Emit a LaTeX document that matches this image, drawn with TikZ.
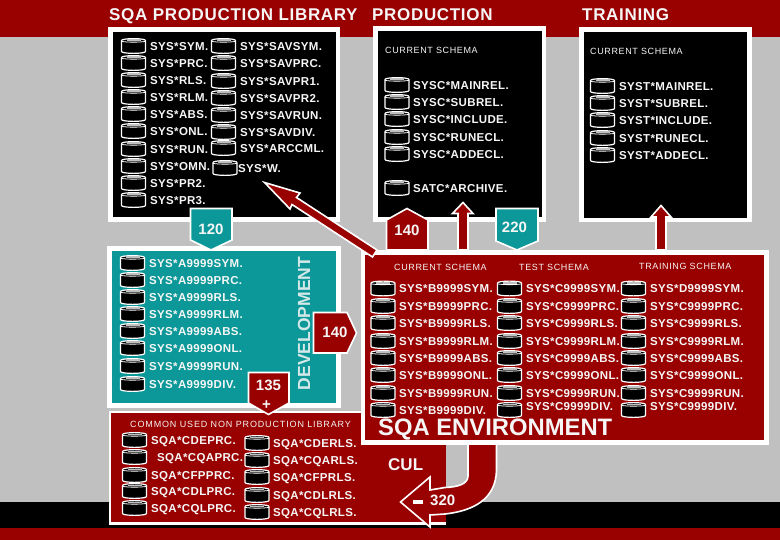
\documentclass[tikz,border=0pt]{standalone}
\usepackage{fontspec}
\setmainfont{Liberation Sans}
\definecolor{sqared}{HTML}{990000}
\definecolor{sqateal}{HTML}{0C9898}
\definecolor{sqagray}{HTML}{C0C0C0}
\definecolor{txtw}{HTML}{F6F6F6}
\newcounter{lbl}
\newcommand{\fsz}[1]{\fontsize{#1}{#1}\selectfont}
\tikzset{
  tx/.style={inner sep=0pt,anchor=base west,text=txtw},
  item/.style={tx,font=\fsz{11.5}\bfseries\addfontfeature{LetterSpace=3}},
  schema/.style={tx,font=\fsz{9}\addfontfeature{LetterSpace=7}},
  widesch/.style={tx,font=\fsz{9}\addfontfeature{LetterSpace=9.5}},
  head/.style={tx,font=\fsz{17}\bfseries\addfontfeature{LetterSpace=4}},
  badge/.style={inner sep=0pt,anchor=center,text=txtw,font=\fsz{15}\bfseries},
  blockw/.style={draw=white,line width=1.6pt,line join=miter},
  panel/.style={draw=white,line width=4.6pt},
}
\newcommand{\cyl}[2]{%
  \begin{scope}[shift={(#1,#2)}]
    \draw[white,fill=black,line width=1.2pt,rounded corners=0.6pt] (-12,-5.8) .. controls (-8,-7.8) and (8,-7.8) .. (12,-5.8)
       -- (12,5.8) .. controls (8,7.8) and (-8,7.8) .. (-12,5.8) -- cycle;
    \draw[white,line width=0.8pt] (-12,-4.6) .. controls (-6,-3.6) and (6,-3.6) .. (12,-4.6);
    \draw[sqagray,line width=1.8pt] (-7,-5.6) -- (7,-5.6);
  \end{scope}}
\newcommand{\itemrow}[4]{% cylinder x, text x, y, text
  \cyl{#1}{#3}\stepcounter{lbl}%
  \node[item] (t\arabic{lbl}) at (#2,#3+4.2) {#4};}
\newcommand{\txtat}[4]{% style, x, baseline y, text
  \stepcounter{lbl}\node[#1] (t\arabic{lbl}) at (#2,#3) {#4};}
\begin{document}
\begin{tikzpicture}[x=1pt,y=-1pt]
\useasboundingbox (0,0) rectangle (780,540);
% background and bands
\fill[sqagray] (0,0) rectangle (780,540);
\fill[sqared] (0,0) rectangle (780,37.5);
\fill[black] (0,502) rectangle (780,528);
\fill[sqared] (0,528) rectangle (780,540);
% titles
\txtat{head}{109}{20.5}{SQA PRODUCTION LIBRARY}
\txtat{head}{372}{20.5}{PRODUCTION}
\txtat{head}{582}{20.5}{TRAINING}
% panels
\draw[panel,fill=black] (110.5,29.5) rectangle (338,219.5);
\draw[panel,fill=black] (375.5,28.5) rectangle (544,219.5);
\draw[panel,fill=black] (581.5,29.5) rectangle (749.5,220);
\draw[panel,fill=sqateal] (109.5,248.5) rectangle (338.5,405.5);
% common library
\fill[white] (108.5,410.5) rectangle (446,524.5);
\fill[sqared] (111,413) rectangle (446,522);
% CUL arrow
\draw[blockw,fill=sqared] (468,438) -- (468,476) .. controls (468,484) and (458,487) .. (445,487.5)
  -- (430,490) -- (430,477) -- (400.5,502) -- (430,527) -- (430,515) -- (445,514)
  .. controls (472,511) and (496,500) .. (496.5,470) -- (496.5,438) -- cycle;
% SQA environment
\draw[panel,fill=sqared] (363,252.5) rectangle (766.5,442.5);
% library items
\foreach \y/\t in {46/SYS*SYM.,63/SYS*PRC.,80/SYS*RLS.,97/SYS*RLM.,114/SYS*ABS.,131/SYS*ONL.,149/SYS*RUN.,166/SYS*OMN.,183/SYS*PR2.,200/SYS*PR3.}
  {\itemrow{133.5}{150}{\y}{\t}}
\foreach \y/\t in {46/SYS*SAVSYM.,63/SYS*SAVPRC.,81/SYS*SAVPR1.,98/SYS*SAVPR2.,115/SYS*SAVRUN.,132/SYS*SAVDIV.,148/SYS*ARCCML.}
  {\itemrow{223.5}{240}{\y}{\t}}
\itemrow{225}{238}{168}{SYS*W.}
% production
\txtat{schema}{385}{54}{CURRENT SCHEMA}
\foreach \y/\t in {85/SYSC*MAINREL.,102/SYSC*SUBREL.,119/SYSC*INCLUDE.,137/SYSC*RUNECL.,154/SYSC*ADDECL.,188/SATC*ARCHIVE.}
  {\itemrow{397}{413}{\y}{\t}}
% training
\txtat{schema}{590}{55}{CURRENT SCHEMA}
\foreach \y/\t in {86/SYST*MAINREL.,103/SYST*SUBREL.,120/SYST*INCLUDE.,138/SYST*RUNECL.,155/SYST*ADDECL.}
  {\itemrow{602.5}{619}{\y}{\t}}
% development
\foreach \y/\t in {263/SYS*A9999SYM.,280/SYS*A9999PRC.,297/SYS*A9999RLS.,314/SYS*A9999RLM.,331/SYS*A9999ABS.,348/SYS*A9999ONL.,366/SYS*A9999RUN.,384/SYS*A9999DIV.}
  {\itemrow{132.5}{149}{\y}{\t}}
\stepcounter{lbl}
\node[inner sep=0pt,rotate=90,anchor=center,text=txtw!85!sqateal,font=\fsz{17.5}\bfseries] (t\arabic{lbl}) at (304,323.5) {DEVELOPMENT};
% common
\txtat{widesch}{130}{427.5}{COMMON USED NON PRODUCTION LIBRARY}
\itemrow{134.5}{151}{440}{SQA*CDEPRC.}
\itemrow{134.5}{157}{457}{SQA*CQAPRC.}
\itemrow{134.5}{151}{475}{SQA*CFPPRC.}
\itemrow{134.5}{151}{491}{SQA*CDLPRC.}
\itemrow{134.5}{151}{508}{SQA*CQLPRC.}
\foreach \y/\t in {443/SQA*CDERLS.,460/SQA*CQARLS.,477/SQA*CFPRLS.,495/SQA*CDLRLS.,512/SQA*CQLRLS.}
  {\itemrow{257}{273}{\y}{\t}}
% SQA environment contents
\txtat{schema}{394}{270.5}{CURRENT SCHEMA}
\txtat{schema}{519}{270.5}{TEST SCHEMA}
\txtat{schema}{639}{269.5}{TRAINING SCHEMA}
\foreach \y/\t in {288.5/SYS*B9999SYM.,306/SYS*B9999PRC.,323/SYS*B9999RLS.,341/SYS*B9999RLM.,358/SYS*B9999ABS.,375/SYS*B9999ONL.,393/SYS*B9999RUN.,410/SYS*B9999DIV.}
  {\itemrow{383}{399}{\y}{\t}}
\foreach \y/\t in {288.5/SYS*C9999SYM.,306/SYS*C9999PRC.,323/SYS*C9999RLS.,341/SYS*C9999RLM.,358/SYS*C9999ABS.,375/SYS*C9999ONL.,393/SYS*C9999RUN.}
  {\itemrow{509.5}{526}{\y}{\t}}
\cyl{509.5}{410}\txtat{item}{526}{410.5}{SYS*C9999DIV.}
\itemrow{633.5}{650}{288.5}{SYS*D9999SYM.}
\foreach \y/\t in {306/SYS*C9999PRC.,323/SYS*C9999RLS.,341/SYS*C9999RLM.,358/SYS*C9999ABS.,375/SYS*C9999ONL.,393/SYS*C9999RUN.}
  {\itemrow{633.5}{650}{\y}{\t}}
\cyl{633.5}{410}\txtat{item}{650}{410.5}{SYS*C9999DIV.}
\stepcounter{lbl}
\node[tx,font=\fsz{23.8}\bfseries] (t\arabic{lbl}) at (378,435.5) {SQA ENVIRONMENT};
\txtat{tx,font=\fsz{17}\bfseries}{388}{470}{CUL}
\fill[white] (413,500) rectangle (423,504);
\txtat{tx,font=\fsz{15}\bfseries}{430}{505.5}{320}
% badges
\draw[blockw,fill=sqateal] (190.5,208.5) -- (232,208.5) -- (232,240) -- (211,250) -- (190.5,240) -- cycle;
\node[badge] (b120) at (211,229) {120};
\draw[blockw,fill=sqared] (386.5,220) -- (407,208.5) -- (428,220) -- (428,250) -- (386.5,250) -- cycle;
\node[badge] (b140a) at (407,230) {140};
\draw[blockw,fill=sqateal] (496,208.5) -- (538,208.5) -- (538,241) -- (517,250) -- (496,241) -- cycle;
\node[badge] (b220) at (514.5,227) {220};
\draw[blockw,fill=sqared] (313.5,312.5) -- (347,312.5) -- (356.5,333) -- (347,353) -- (313.5,353) -- cycle;
\node[badge] (b140b) at (335,332) {140};
\draw[blockw,fill=sqared] (248.5,372.5) -- (289,372.5) -- (289,403) -- (268.5,414.5) -- (248.5,403) -- cycle;
\node[badge] (b135) at (268.5,385.5) {135};
\node[badge] (bplus) at (266.5,405) {+};
% diagonal block arrow
\draw[blockw,fill=sqared] (264.5,182.5) -- (300,193) -- (296.5,197.5) -- (377,250) -- (372.5,257) -- (292,204.5) -- (290,209) -- cycle;
% upward block arrows
\draw[blockw,fill=sqared] (463,202.5) -- (473,213.5) -- (468,213.5) -- (468,250) -- (458,250) -- (458,213.5) -- (452.5,213.5) -- cycle;
\draw[blockw,fill=sqared] (661,205.5) -- (671,217) -- (666,217) -- (666,250) -- (656,250) -- (656,217) -- (651,217) -- cycle;
\end{tikzpicture}
\end{document}
